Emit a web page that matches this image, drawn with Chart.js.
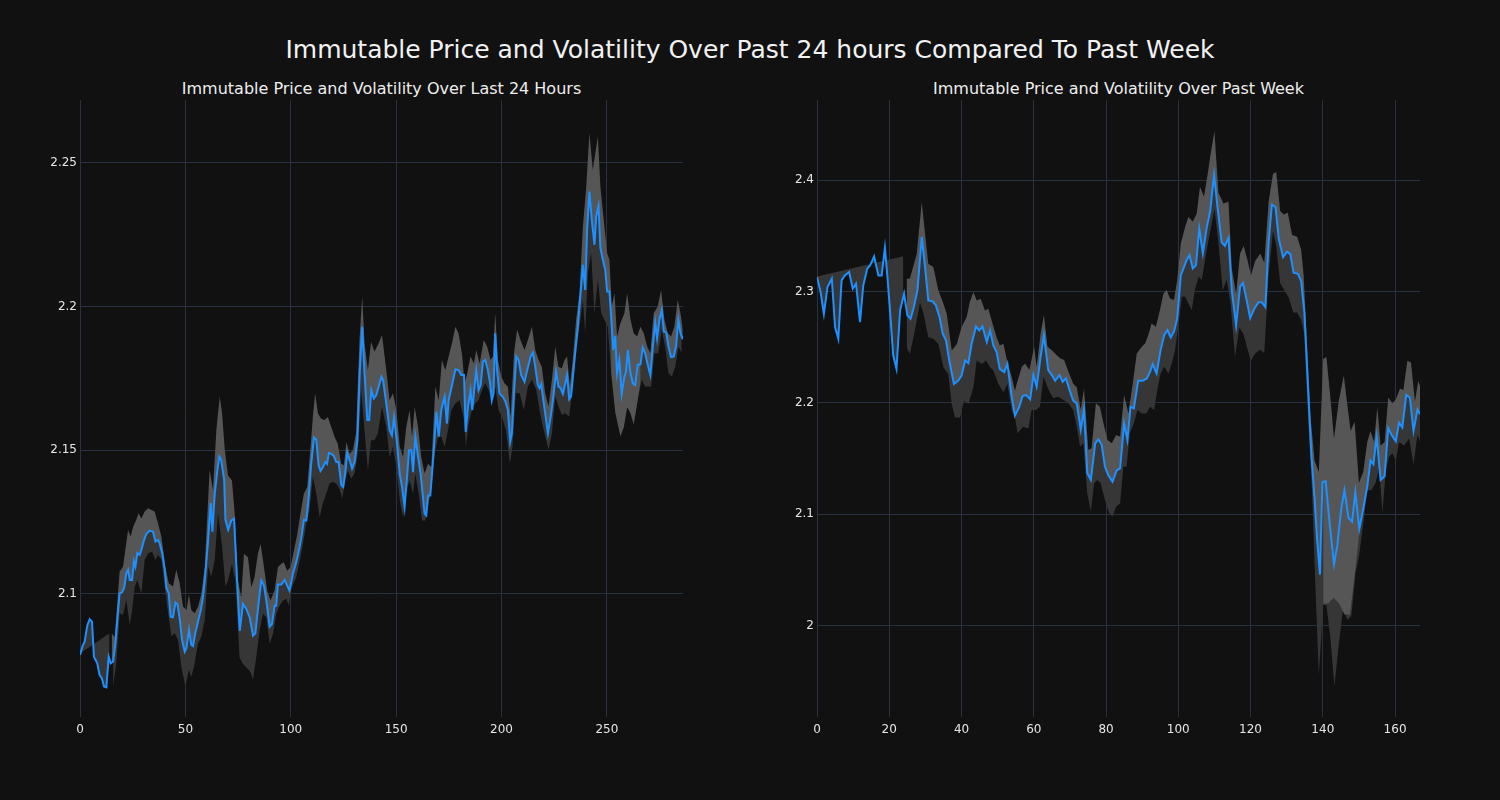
<!DOCTYPE html>
<html><head><meta charset="utf-8">
<script src="https://cdn.jsdelivr.net/npm/chart.js@4.4.1/dist/chart.umd.min.js"></script>
<style>
html,body{margin:0;padding:0;background:#111111;width:1500px;height:800px;overflow:hidden;font-family:"DejaVu Sans",sans-serif;}
#title{position:absolute;left:0;width:1500px;top:35px;line-height:30px;text-align:center;color:#f2f2f2;font-size:25px;}
.sub{position:absolute;top:79px;line-height:20px;color:#eeeeee;font-size:16px;text-align:center;}
canvas{position:absolute;top:90px;}
</style></head>
<body>
<div id="title">Immutable Price and Volatility Over Past 24 hours Compared To Past Week</div>
<div class="sub" style="left:80px;width:603px;">Immutable Price and Volatility Over Last 24 Hours</div>
<div class="sub" style="left:817px;width:603px;">Immutable Price and Volatility Over Past Week</div>
<canvas id="c1" width="750" height="700" style="left:0px"></canvas>
<canvas id="c2" width="750" height="700" style="left:750px"></canvas>
<script>
// ---------- Left panel: last 24 hours (5-minute steps) ----------
const leftXTicks = [0, 50, 100, 150, 200, 250];
const leftYTicks = [2.1, 2.15, 2.2, 2.25];
const leftPriceX = [0,1.4,2.2,3.5,4.6,5.7,6.6,8.2,9.3,10.4,11.4,12.5,13.6,14.6,15.7,16.8,17.7,18.8,19.9,20.9,22,22.8,23.6,24.7,25.6,26.3,27.2,28.3,29.1,30.4,31.5,33,34.6,35.8,37,37.8,39,40.2,41,42.1,43,44.1,45.3,46.2,47.3,48.4,49.7,50.5,51.7,52.8,53.6,54.7,56,57.3,58.4,59.5,60.8,62,62.8,63.9,65.2,66.1,67,68.4,69,70.3,71.8,73.1,74.2,75.8,77.3,78.9,80.5,82.1,83.2,84.5,86,87.3,88.4,90,91.1,92.3,93.1,93.9,95.5,97.1,98.3,99.4,101,102.6,104.2,105.3,106.2,107.4,108.5,109.7,111,112.1,113.2,114.1,115.3,116.4,117.2,118.1,119.5,120.5,121.6,122.7,124,124.9,125.9,126.8,128,129.1,130.3,131.6,132.7,133.9,135,136.3,137.2,138.2,139.4,140.6,141.7,143,143.8,145.3,146.9,148,149,150.1,151.7,152.8,154,155.3,156.1,157.2,158,159.1,160.4,161.6,162.7,163.5,164.3,165.1,166.2,167.5,169.1,170.2,171.4,173,174.1,174.9,176.5,178.1,179.6,180.9,182.2,183,184.1,185.3,186.1,187.2,188,189.1,190.1,191.2,192.3,193.5,194.6,195.4,196.2,197,197.9,199,200.6,201.9,203,204.1,204.9,205.9,207,208.1,209.3,210.9,212.2,213.8,214.9,216,217.2,218,218.8,219.6,220.7,222,223.2,224.4,225.9,227,228,229.1,229.9,231.1,232.1,233,234.6,236.2,237.5,238.6,239.7,240.6,241.7,242.8,244.1,244.9,246,246.9,248.1,249.2,250.1,251.2,252,253,253.9,254.8,255.9,257,258.3,259.1,259.9,261.2,262.3,263.4,264.6,265.9,267,268.1,269.4,270.6,271.8,272.9,273.8,274.9,276,277,278.1,279.2,280.4,281.7,282.8,283.9,284.9,286];
const leftPrice = [2.0788,2.0823,2.0834,2.0892,2.0912,2.0904,2.0782,2.0759,2.0718,2.0706,2.0678,2.0675,2.0782,2.0759,2.0765,2.0828,2.091,2.1002,2.1005,2.102,2.1072,2.1084,2.1049,2.1049,2.1113,2.1095,2.1142,2.1136,2.1153,2.1188,2.1209,2.122,2.1217,2.1182,2.1188,2.1176,2.1142,2.1084,2.102,2.1002,2.0921,2.0919,2.097,2.0965,2.0915,2.084,2.0799,2.0811,2.0875,2.0823,2.0819,2.0863,2.0904,2.0944,2.0991,2.1072,2.1188,2.1316,2.1217,2.1345,2.1432,2.1478,2.1466,2.1397,2.1258,2.1223,2.1256,2.1262,2.1093,2.0872,2.0965,2.0948,2.0919,2.0855,2.0863,2.0953,2.1047,2.1029,2.0977,2.0886,2.0895,2.0959,2.0959,2.1033,2.1033,2.1049,2.1029,2.1012,2.107,2.111,2.1163,2.1209,2.1258,2.1256,2.1337,2.1453,2.1544,2.1537,2.1448,2.1428,2.1442,2.1459,2.1453,2.1491,2.1486,2.1479,2.1459,2.1459,2.1378,2.1372,2.1424,2.1491,2.1465,2.1436,2.1459,2.1535,2.1767,2.193,2.1767,2.1605,2.1605,2.1709,2.168,2.1692,2.1721,2.1756,2.1744,2.1663,2.157,2.1552,2.1616,2.1547,2.1419,2.1372,2.1302,2.1419,2.15,2.15,2.1424,2.1547,2.1477,2.1419,2.1337,2.1279,2.1273,2.1343,2.1343,2.1465,2.1634,2.1547,2.164,2.1686,2.1593,2.1674,2.1727,2.1781,2.1779,2.1762,2.1762,2.1564,2.1651,2.1709,2.164,2.1721,2.1779,2.1709,2.1727,2.1808,2.1814,2.1779,2.1733,2.1674,2.1698,2.1907,2.1779,2.1698,2.1686,2.1669,2.164,2.1529,2.1558,2.1698,2.1826,2.1814,2.1762,2.1738,2.1779,2.1826,2.184,2.1791,2.1727,2.1716,2.173,2.1687,2.1629,2.1559,2.1611,2.1675,2.1774,2.1722,2.1716,2.1696,2.1722,2.1762,2.1677,2.1687,2.1814,2.193,2.2046,2.2145,2.2058,2.2267,2.24,2.2302,2.2215,2.2313,2.235,2.2203,2.2162,2.2128,2.2052,2.2052,2.1965,2.1849,2.1898,2.1768,2.1814,2.1696,2.1756,2.1774,2.1849,2.1768,2.1733,2.1727,2.1797,2.1799,2.1857,2.1838,2.1797,2.1762,2.1861,2.1944,2.1889,2.1954,2.1988,2.1913,2.191,2.1861,2.1824,2.1826,2.1861,2.1954,2.1907,2.1886];
const leftUpperX = [15,16.5,18.8,20.4,22.8,24,25.2,26.7,27.8,29.1,30.7,32.3,33.9,35.4,37,38.6,40.5,42.1,44.1,45.7,47.3,48.9,50.5,51.7,52.8,54.4,56,57.6,59.2,61.5,63.1,64.7,66.3,67.4,68.7,70.2,72.1,73.4,74.9,76.5,77.8,79.7,81.3,82.8,84.4,85.7,87.3,88.8,90.4,92.3,93.9,95.5,96.7,98.3,99.9,101.5,103.1,104.6,106.2,107.8,109.4,110.6,111.6,112.9,114.4,116,117.6,119.2,120.8,122.3,123.9,125.2,126.4,127.9,129.5,131,132.6,133.9,135,136.6,138.1,139.7,141.3,143.3,145.3,146.9,148.5,150.1,151.7,153.3,154.8,156.4,157.5,158.8,160.4,161.9,163.5,165.1,166.7,168.6,170.2,171.7,173.3,174.9,176.5,178.1,179.6,181.2,182.5,183.7,185.3,186.9,188,189.6,191.6,193.2,194.8,195.9,197,198.3,199.9,201.4,203,204.3,205.9,207.4,209,210.9,212.5,214.4,216,217.6,219.1,220.7,222.3,223.9,225.5,227,228.6,229.9,231.1,232.4,233.8,235.4,237,238.6,240.2,241.7,243.3,245.7,246.9,248.5,250.1,251.2,252.3,253.6,254.8,256.4,258.3,259.6,261.2,262.7,264.3,265.9,267.5,269.1,270.6,272.2,274.1,275.7,277.3,278.9,280.4,282,283.6,284.9,286];
const leftUpper = [2.0863,2.085,2.1078,2.1095,2.1223,2.12,2.1234,2.1258,2.1281,2.1263,2.1287,2.1298,2.1292,2.1287,2.1246,2.12,2.1095,2.1037,2.1026,2.1084,2.1037,2.0956,2.0944,2.0997,2.0944,2.0933,2.0956,2.1002,2.1095,2.1432,2.1362,2.1571,2.1687,2.1629,2.1501,2.1413,2.1395,2.1279,2.1047,2.0988,2.114,2.1128,2.1023,2.1058,2.114,2.1174,2.1093,2.1012,2.0977,2.1012,2.1093,2.1105,2.111,2.1081,2.1093,2.1151,2.1209,2.1279,2.1349,2.1372,2.1512,2.1628,2.1698,2.1628,2.161,2.1605,2.1616,2.1581,2.1547,2.1523,2.1453,2.1448,2.1529,2.1488,2.15,2.1564,2.1884,2.2035,2.1872,2.1779,2.1878,2.1843,2.1866,2.1901,2.1779,2.1674,2.1698,2.164,2.1512,2.1477,2.1581,2.164,2.1547,2.1651,2.1581,2.1477,2.1419,2.1453,2.1442,2.1721,2.1674,2.1814,2.1779,2.1826,2.1872,2.193,2.1907,2.1837,2.1733,2.1767,2.1826,2.1802,2.1849,2.1802,2.1884,2.186,2.1814,2.1826,2.1977,2.1814,2.1756,2.1733,2.1721,2.1616,2.1837,2.1919,2.1884,2.1849,2.1884,2.193,2.1849,2.1814,2.1791,2.1698,2.1652,2.1745,2.1861,2.1791,2.1785,2.1814,2.1826,2.1722,2.1814,2.1954,2.2046,2.2278,2.2418,2.2603,2.2476,2.2592,2.2418,2.2302,2.2186,2.2162,2.2,2.2046,2.1896,2.1942,2.1977,2.2046,2.1954,2.1907,2.1896,2.193,2.1907,2.1861,2.1838,2.1977,2.2,2.2058,2.1954,2.1907,2.1896,2.193,2.2023,2.1977,2.1919];
const leftLowerX = [15.7,17.2,18.8,20.4,22,23.6,24.7,26,27.2,29.1,30.7,32.3,34.2,35.8,37,38.6,40.2,41.8,43.4,44.9,46.5,48.1,50,51.6,52.8,54.1,56,57.6,59.2,60.8,62.3,63.9,65.5,67.4,69,70.2,72.1,73.7,75.7,77.3,78.9,80.5,82.1,83.6,85.2,86.8,88.4,90,91.5,93.1,94.7,96.3,97.9,99,100.5,102.6,104.2,105.8,107.3,108.9,110.5,112.1,113.7,115.2,116.8,118.4,120,121.6,123.1,124.4,125.8,127.1,128.7,130.2,131.8,133.4,135,136.6,138.1,139.7,141.3,143.3,145.3,146.9,148.5,150.1,151.7,153.3,154.8,156.4,158,159.1,160.7,162.3,163.8,165.1,166.7,168.3,169.9,171.4,173,174.6,176.2,178.1,180.1,182.2,183.1,184.4,186,187.5,189.1,190.7,192.3,193.9,195.4,197,198.6,200.2,202.1,204,205.2,206.8,208.6,210.6,212.5,214.4,216.5,218,219.6,221.2,222.3,223.9,225.5,227,228.6,230.2,232.1,233.8,235.4,237,238.6,239.7,241,242.5,244.1,245.7,247.3,248.8,250.4,252,253.3,254.8,256.4,258,259.6,261.2,262.7,264.6,266.5,268.1,269.7,271,272.5,274.4,276,277.6,279.2,280.8,282.4,284,285.5];
const leftLower = [2.0677,2.0759,2.0933,2.0927,2.0979,2.0892,2.0944,2.1026,2.1049,2.1002,2.1118,2.1142,2.1147,2.1118,2.1136,2.112,2.1026,2.0933,2.0852,2.0863,2.084,2.0747,2.0677,2.0736,2.0712,2.0747,2.0828,2.0852,2.091,2.1095,2.106,2.1118,2.1281,2.1165,2.1026,2.1047,2.1105,2.1047,2.0779,2.0756,2.0744,2.0733,2.0703,2.0779,2.0872,2.093,2.0919,2.0826,2.086,2.093,2.0959,2.0977,2.0983,2.0959,2.1023,2.1058,2.1116,2.1174,2.1244,2.1291,2.1407,2.1349,2.1267,2.1314,2.1349,2.1384,2.139,2.1384,2.1366,2.1331,2.1395,2.143,2.1401,2.1419,2.1488,2.1709,2.157,2.143,2.1535,2.1535,2.1558,2.1651,2.1581,2.1477,2.1512,2.1442,2.1326,2.1267,2.136,2.1395,2.1349,2.1419,2.1349,2.1256,2.1256,2.1302,2.136,2.1488,2.1547,2.1547,2.1512,2.157,2.164,2.1663,2.1674,2.1605,2.1512,2.1593,2.164,2.1663,2.1674,2.1709,2.1733,2.1709,2.1663,2.1721,2.164,2.1616,2.157,2.1453,2.1512,2.1698,2.1698,2.164,2.1722,2.1745,2.171,2.164,2.1582,2.1536,2.1501,2.1559,2.1687,2.1652,2.1623,2.1629,2.1617,2.1722,2.1838,2.193,2.2023,2.1907,2.2116,2.2186,2.1977,2.2093,2.1977,2.1954,2.193,2.1768,2.1722,2.1629,2.1548,2.1582,2.1652,2.1629,2.1594,2.1675,2.1745,2.1722,2.1722,2.1722,2.1838,2.1838,2.1919,2.1861,2.1768,2.1756,2.1791,2.1861,2.1838];
const leftWarmX = [0, 14];
const leftWarm = [2.0793, 2.0863];
const leftLightLowX = [252,254,256.4,258,259.6,261.2,262.7,264.6,266];
const leftLightLow = [2.177,2.163,2.155,2.158,2.165,2.163,2.159,2.1675,2.174];

// ---------- Right panel: past week (hourly steps) ----------
const rightXTicks = [0, 20, 40, 60, 80, 100, 120, 140, 160];
const rightYTicks = [2.0, 2.1, 2.2, 2.3, 2.4];
const rightPriceX = [0,1,1.9,2.9,4.1,5,5.9,6.8,7.7,8.9,9.9,10.8,11.9,12.8,13.9,14.7,15.8,17,17.9,18.8,19.5,20.2,21.1,22,23,24.1,25,25.9,26.8,27.8,29,29.9,30.8,32,32.9,33.9,34.8,35.7,36.6,37.9,39.1,40,41,41.9,42.8,44,44.9,45.8,47,47.9,48.8,49.7,50.6,51.8,52.7,53.9,54.8,56,56.9,57.9,59,59.9,60.8,61.9,62.8,64,65,65.9,67.1,68,68.9,69.9,70.9,71.9,73,73.9,74.8,75.8,77,77.9,78.8,79.7,80.6,81.8,82.9,83.9,85,85.9,86.8,87.7,88.9,90.1,91.3,92.2,92.9,94,95.1,96.1,97,97.9,98.8,99.7,100.7,101.6,102.3,103.1,104,104.9,105.8,106.8,107.9,108.8,109.9,110.8,112,112.9,113.9,114.8,116,117.1,117.9,119,119.9,121,122.2,123.1,124.1,125,125.9,126.9,127.8,129,130.1,131,131.9,133.1,134,134.9,135.8,136.8,137.7,138.4,139.2,139.9,140.8,141.9,143.1,144,145.1,146,147.1,148.1,149,150.1,151.2,152.3,153.2,154,154.9,156,157.1,158.1,159,160.2,161.1,162,163.1,164.1,165.1,166.2,166.9];
const rightPrice = [2.313,2.2996,2.28,2.304,2.3115,2.2681,2.2576,2.31,2.3145,2.3175,2.3025,2.307,2.2726,2.3055,2.3205,2.3235,2.3316,2.3145,2.3145,2.3394,2.313,2.2831,2.2426,2.2306,2.2831,2.298,2.2786,2.2756,2.2861,2.3011,2.349,2.322,2.292,2.2912,2.2876,2.2771,2.2621,2.2561,2.2381,2.2171,2.2201,2.2246,2.2381,2.2357,2.2531,2.2687,2.2651,2.2687,2.2546,2.2651,2.2516,2.2456,2.2306,2.2276,2.2351,2.2051,2.1886,2.1966,2.2062,2.2071,2.2032,2.225,2.2145,2.2415,2.2609,2.2295,2.225,2.2199,2.225,2.219,2.222,2.2115,2.202,2.1996,2.1757,2.1942,2.1368,2.1308,2.1637,2.1673,2.1622,2.1427,2.1353,2.1293,2.1392,2.1412,2.1816,2.1667,2.1966,2.1951,2.2199,2.2199,2.222,2.228,2.2349,2.2265,2.2474,2.2609,2.2654,2.2588,2.2639,2.2759,2.3147,2.3222,2.3282,2.3327,2.3207,2.3237,2.3566,2.3342,2.3581,2.3716,2.4045,2.3774,2.3442,2.3409,2.3482,2.301,2.2694,2.3043,2.3076,2.291,2.2761,2.2844,2.2904,2.2904,2.286,2.3442,2.3781,2.3757,2.3475,2.3309,2.3359,2.3336,2.3169,2.3159,2.3093,2.2811,2.2213,2.1548,2.115,2.0784,2.0459,2.1289,2.1296,2.0917,2.0551,2.0718,2.105,2.1216,2.0967,2.0934,2.12,2.0867,2.105,2.1249,2.1482,2.1449,2.1698,2.1309,2.1342,2.1774,2.1714,2.1655,2.1821,2.1781,2.2073,2.2047,2.1748,2.194,2.1897];
const rightUpperX = [24.8,25.7,27.6,29,29.9,30.8,32.2,33.6,35,35.9,37.3,38.7,40,41.4,42.3,43.3,44.2,45.3,46.5,47.4,48.6,49.7,50.6,51.6,52.7,53.9,54.8,55.3,56.7,57.6,58.8,60.1,60.8,61.9,62.8,63.8,65,66.3,67.3,68.4,69.6,70.9,71.9,73,73.9,75.1,76,77.2,78.3,79.3,80.4,81.6,82.8,83.9,85,86.2,87.4,88.5,89.9,90.8,91.7,92.6,93.8,94.9,95.9,96.8,97.7,98.8,99.7,100.7,101.9,102.8,104,105.1,106,107.1,108.3,108.8,110,111.1,112.5,113.9,114.8,116,117.1,118.1,119.2,120.1,121.3,122.7,123.8,125,126.2,127.1,128.2,129.2,130.3,131.5,132.9,134,134.7,135.6,136.6,137.7,138.9,140.1,141,142.1,143.1,144.4,145.8,146.8,147.7,148.8,150,151.2,152.3,153.2,154.2,155.1,156,157.1,158.1,159.3,160.2,161.4,162.3,163.4,164.4,165.5,166.4,167];
const rightUpper = [2.3115,2.3115,2.334,2.3805,2.352,2.325,2.322,2.301,2.289,2.28,2.247,2.253,2.268,2.277,2.2906,2.2996,2.292,2.2936,2.283,2.2846,2.271,2.259,2.2516,2.2531,2.2366,2.2231,2.211,2.2175,2.2325,2.2355,2.2295,2.2504,2.2325,2.2624,2.2789,2.2504,2.2474,2.243,2.24,2.2385,2.228,2.2175,2.2139,2.1936,2.213,2.1577,2.1592,2.1996,2.1966,2.1816,2.1667,2.1637,2.1712,2.1697,2.2071,2.1906,2.2175,2.2444,2.2504,2.2534,2.2609,2.2714,2.2684,2.2833,2.2983,2.3013,2.2938,2.2923,2.3103,2.3432,2.3581,2.3671,2.3626,2.3701,2.394,2.385,2.409,2.4206,2.4439,2.389,2.3791,2.3807,2.3209,2.2977,2.3342,2.3409,2.3276,2.3143,2.3276,2.3342,2.3259,2.3807,2.4056,2.4073,2.3724,2.3691,2.3708,2.3508,2.3492,2.3375,2.3143,2.2545,2.188,2.1482,2.1382,2.2395,2.2412,2.2047,2.1681,2.2013,2.2246,2.198,2.1748,2.1831,2.1282,2.1382,2.1648,2.1748,2.1648,2.1963,2.1615,2.1648,2.2047,2.1997,2.203,2.213,2.2113,2.2379,2.2362,2.2013,2.2196,2.2146];
const rightLowerX = [24.8,25.7,27.1,28.5,29.5,30.8,32.2,33.6,35,36.3,37.3,38.2,39.6,40.7,41.9,43.3,44.2,45.6,46.8,47.9,48.8,50.2,51.6,52.7,53.9,54.8,55.5,57.1,58.5,59.4,60.6,61.7,62.7,64.1,65.4,66.8,68.2,69.6,70.9,71.9,72.8,73.7,74.8,75.8,76.7,77.6,78.5,79.7,80.9,81.8,82.8,83.9,84.8,85.7,86.6,87.7,88.7,89.9,91.1,92.2,93.3,94.2,95.1,96.1,97.3,98.2,99.1,100.1,101,101.9,102.8,103.7,104.6,105.6,106.5,107.4,108.3,109.2,110,111.1,112.3,113.4,114.5,115.7,116.9,118.1,119.2,120.1,121.3,122.7,123.8,125,126.2,127.1,128.2,129.4,130.6,131.8,132.9,134,134.9,135.8,137,137.9,138.9,140.1,141,142.1,143.2,144.4,145.6,146.8,147.9,149.1,150,151.2,152.3,153.4,154.6,155.6,156.5,157.4,158.3,159.3,160.2,161.1,162.5,163.9,165.1,166.2,167];
const rightLower = [2.25,2.244,2.265,2.29,2.28,2.259,2.2576,2.253,2.232,2.226,2.199,2.187,2.187,2.202,2.199,2.214,2.238,2.235,2.238,2.232,2.229,2.217,2.2096,2.217,2.193,2.187,2.1727,2.1786,2.1771,2.1936,2.1936,2.1966,2.2235,2.2115,2.2041,2.2056,2.2026,2.1996,2.1936,2.1786,2.1607,2.1637,2.1188,2.1024,2.1278,2.1308,2.1278,2.1128,2.1009,2.0979,2.1069,2.1098,2.1427,2.1427,2.1727,2.1816,2.1936,2.1906,2.1906,2.1966,2.1936,2.2115,2.2265,2.2325,2.2265,2.2355,2.2474,2.2714,2.2953,2.2953,2.2893,2.2833,2.3013,2.3133,2.3103,2.3282,2.345,2.36,2.3741,2.3442,2.301,2.311,2.2877,2.2412,2.2678,2.2611,2.2478,2.2379,2.2445,2.2478,2.2445,2.3143,2.3542,2.3409,2.3076,2.301,2.2944,2.2811,2.2811,2.2744,2.2611,2.1947,2.1216,2.0385,1.9555,2.0186,2.0186,1.9887,1.9455,1.9821,2.0153,2.0053,2.0086,2.0485,2.0618,2.0917,2.1216,2.1216,2.1282,2.1415,2.1017,2.1382,2.1515,2.1548,2.1482,2.1648,2.1615,2.1681,2.1449,2.1714,2.1648];
const rightWarmX = [0, 23.9];
const rightWarm = [2.3136, 2.3316];
const rightLightLowX = [140.1,141.5,143,144.5,146,147.5,149,150];
const rightLightLow = [2.02,2.02,2.025,2.02,2.01,2.01,2.05,2.08];

// ---------- styling ----------
const LINE = '#1e90ff';
const LIGHT = '#565656';
const DARK = '#363636';
const GRID = '#283240';
const TICK = '#e6e6e6';
const FONT = {family: 'DejaVu Sans', size: 12};

function pts(xs, ys) { return xs.map((x, i) => ({x: x, y: ys[i]})); }
function band(xs, ys, color) {
  return {data: pts(xs, ys), borderWidth: 0, pointRadius: 0, backgroundColor: color, fill: 0};
}

function makeChart(id, p) {
  new Chart(document.getElementById(id), {
    type: 'line',
    data: {datasets: [
      {data: pts(p.priceX, p.price), borderColor: LINE, borderWidth: 2, pointRadius: 0, fill: false, tension: 0},
      band(p.lightLowX, p.lightLow, LIGHT),
      band(p.upperX, p.upper, LIGHT),
      band(p.lowerX, p.lower, DARK),
      band(p.warmX, p.warm, DARK)
    ]},
    options: {
      responsive: false, animation: false, events: [],
      layout: {padding: {left: 10, top: 10, right: p.padRight, bottom: 43}},
      plugins: {legend: {display: false}, tooltip: {enabled: false}, title: {display: false}},
      scales: {
        x: {type: 'linear', min: 0, max: p.xMax,
            afterBuildTicks: s => { s.ticks = p.xTicks.map(v => ({value: v})); },
            ticks: {color: TICK, font: FONT, padding: 6, maxRotation: 0, autoSkip: false, callback: v => String(v)},
            grid: {color: GRID, drawTicks: false, lineWidth: 1}, border: {display: false},
            afterFit: s => { s.height = 30; }},
        y: {type: 'linear', min: p.yMin, max: p.yMax,
            afterBuildTicks: s => { s.ticks = p.yTicks.map(v => ({value: v})); },
            ticks: {color: TICK, font: FONT, padding: 3, callback: v => String(Math.round(v * 100) / 100)},
            grid: {color: GRID, drawTicks: false, lineWidth: 1}, border: {display: false},
            afterFit: s => { s.width = p.yWidth; }}
      }
    }
  });
}

makeChart('c1', {priceX: leftPriceX, price: leftPrice, upperX: leftUpperX, upper: leftUpper,
  lowerX: leftLowerX, lower: leftLower, warmX: leftWarmX, warm: leftWarm,
  lightLowX: leftLightLowX, lightLow: leftLightLow,
  xTicks: leftXTicks, yTicks: leftYTicks, xMax: 286.1, yMin: 2.0572, yMax: 2.2718, yWidth: 70, padRight: 67});
makeChart('c2', {priceX: rightPriceX, price: rightPrice, upperX: rightUpperX, upper: rightUpper,
  lowerX: rightLowerX, lower: rightLower, warmX: rightWarmX, warm: rightWarm,
  lightLowX: rightLightLowX, lightLow: rightLightLow,
  xTicks: rightXTicks, yTicks: rightYTicks, xMax: 166.9, yMin: 1.918, yMax: 2.4718, yWidth: 57, padRight: 80});
</script>
</body></html>
